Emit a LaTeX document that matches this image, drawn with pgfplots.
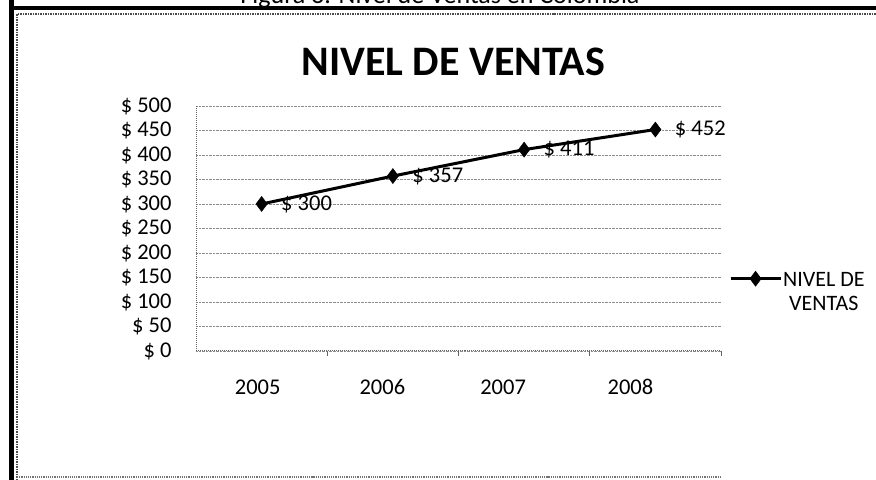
\documentclass[border=0pt]{standalone}
\usepackage{fontspec}
\setmainfont{Carlito}
\usepackage{pgfplots}
\pgfplotsset{compat=1.18}
\begin{document}
\begin{tikzpicture}
\useasboundingbox (0,0) rectangle (876bp,480bp);
% frame
\draw[line width=5bp, black] (11.5bp,0bp) -- (11.5bp,480bp);
\draw[line width=4bp, black] (9bp,472bp) -- (876bp,472bp);
\draw[line width=1.5bp, black!70, densely dotted] (17bp,0bp) -- (17bp,466bp) -- (876bp,466bp);
\draw[line width=1.2bp, black!55, densely dotted] (17bp,3bp) -- (720bp,3bp);
% cut-off caption
\node[anchor=base, font=\fontsize{26bp}{30bp}\selectfont] at (440bp,476bp) {Figura 3. Nivel de Ventas en Colombia};
\begin{axis}[
  at={(196bp,129bp)}, anchor=south west,
  scale only axis, width=525bp, height=245bp,
  xmin=-0.5, xmax=3.5, ymin=0, ymax=500,
  clip=false,
  /pgf/number format/assume math mode=true,
  ticklabel style={font=\fontsize{22.5bp}{26bp}\selectfont},
  axis lines*=left,
  axis line style={black!60, densely dotted, line width=1bp},
  ytick={0,50,...,500},
  yticklabel={\$ \pgfmathprintnumber{\tick}},
  yticklabel style={anchor=east, xshift=-21bp},
  ymajorgrids,
  major grid style={black!45, densely dotted, line width=0.9bp},
  xtick={-0.03,0.92,1.84,2.81},
  xticklabels={2005,2006,2007,2008},
  xticklabel style={anchor=base, yshift=-43bp},
  major tick length=0pt,
  extra x ticks={0.5,1.5,2.5,3.5},
  extra x tick labels={},
  extra x tick style={grid=none, major tick length=5bp, tick align=outside, tick style={black!60, line width=0.8bp}},
  title={NIVEL DE VENTAS},
  title style={font=\fontsize{42bp}{46bp}\selectfont\bfseries, at={(0.49,1)}, anchor=south, yshift=21bp},
  legend style={at={(1.015,0.295)}, anchor=west, draw=none, fill=none,
    font=\fontsize{22bp}{24bp}\selectfont, inner sep=0pt,
    nodes={inner sep=1bp}},
  legend image code/.code={\draw[mark repeat=2,mark phase=2,#1] plot coordinates {(0bp,0bp) (25bp,0bp) (50bp,0bp)};},
  nodes near coords={\$ \pgfmathprintnumber{\pgfplotspointmeta}},
  nodes near coords style={anchor=west, xshift=16bp, font=\fontsize{22.5bp}{26bp}\selectfont, text=black},
]
\addplot[black, line width=3bp, mark=diamond*, mark size=7.5bp, mark options={fill=black, line width=0.5bp}]
  coordinates {(0,300) (1,357) (2,411) (3,452)};
\addlegendentry{\begin{tabular}[t]{@{}c@{}}NIVEL DE\\VENTAS\end{tabular}}
\end{axis}
\end{tikzpicture}
\end{document}
